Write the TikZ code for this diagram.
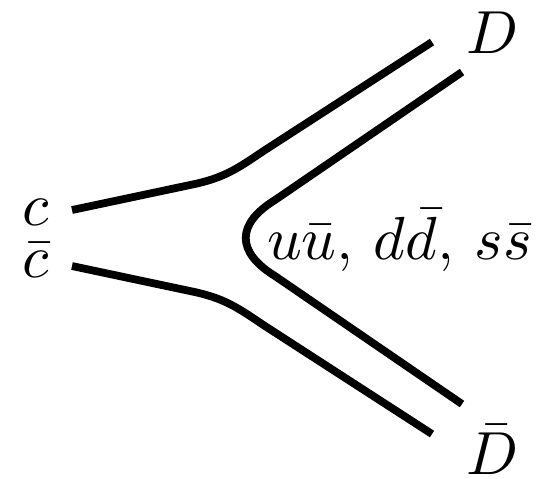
\documentclass[tikz,border=0pt]{standalone}
\begin{document}
\begin{tikzpicture}[
      x=0.18pt, y=-0.18pt,
      quark/.style={line width=1.4pt, line join=round},
      lbl/.style={inner sep=0pt, font=\fontsize{11.2}{13}\selectfont},
    ]
    \useasboundingbox (0,0) rectangle (544,478);
    % --- labels ---
    \node[lbl] (c) at (36,212) {$c$};
    \node[lbl] (cbar) at (36,260) {$\bar c$};
    \node[lbl] (D) at (493,33) {$D$};
    \node[lbl] (Dbar) at (493,450) {$\bar D$};
    \node[lbl, anchor=west] (uds) at (266,240) {$u\bar u$, $d\bar d$, $s\bar s$};

    % --- quark line ends ---
    \coordinate (cin) at (72,210);
    \coordinate (cbarin) at (72,266);
    \coordinate (Dout) at (432,42);
    \coordinate (Dbarout) at (432,434);
    \coordinate (qtop) at (462,72);
    \coordinate (qbot) at (462,404);

    % outer lines: c -> D, cbar -> Dbar
    \draw[quark] (cin) -- (190,185) .. controls (225,178) and (238,168) .. (265,150) -- (Dout);
    \draw[quark] (cbarin) -- (190,291) .. controls (225,298) and (238,308) .. (265,326) -- (Dbarout);
    % inner line: light quark pair
    \draw[quark] (qtop) -- (275,200) .. controls (236,224) and (236,252) .. (275,276) -- (qbot);
  \end{tikzpicture}
\end{document}
